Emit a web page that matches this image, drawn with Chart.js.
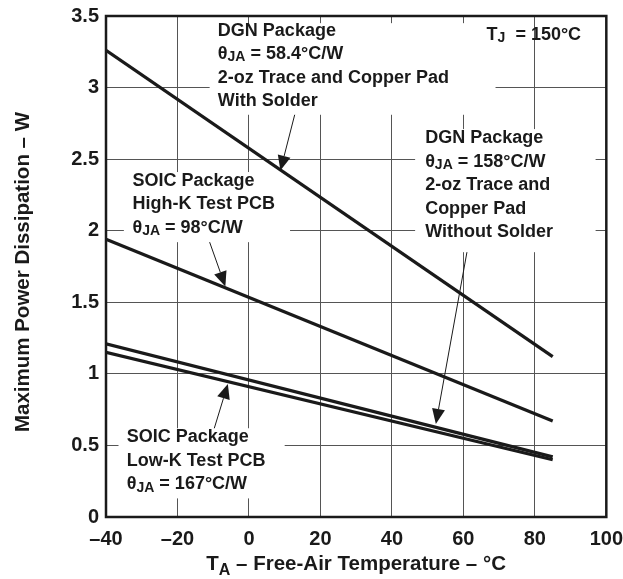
<!DOCTYPE html>
<html>
<head>
<meta charset="utf-8">
<script src="https://cdn.jsdelivr.net/npm/chart.js@4/dist/chart.umd.min.js"></script>
<style>
  html, body { margin: 0; padding: 0; background: #fff; }
  #wrap { width: 623px; height: 579px; }
</style>
</head>
<body>
<div id="wrap"><canvas id="chart" width="623" height="579"></canvas></div>
<script>
// values (T_J = 150 C)
const temps = [-40, 85];
const dgnSolder = [3.26, 1.12];
const soicHighK = [1.94, 0.67];
const dgnNoSolder = [1.21, 0.42];
const soicLowK = [1.15, 0.40];

const xTicks = [-40, -20, 0, 20, 40, 60, 80, 100];
const yTicks = [0, 0.5, 1, 1.5, 2, 2.5, 3, 3.5];

const FONT = 'Arial, "Liberation Sans", Helvetica, sans-serif';
const INK = '#1a1a1a';

const toPoints = (ys) => temps.map((t, i) => ({ x: t, y: ys[i] }));

// text blocks; each line is a list of [text, isSubscript]
// x,y in data units (top-left of the block), arrow from -> tip also in data units
const notes = [
    {
        x: -8.7, y: 3.46, box: [-11, 3.45, 69, 2.81],
        lines: [
            [['DGN Package', 0]],
            [['\u03B8', 0], ['JA', 1], [' = 58.4\u00B0C/W', 0]],
            [['2-oz Trace and Copper Pad', 0]],
            [['With Solder', 0]]
        ],
        arrow: { from: [12.8, 2.81], to: [8.8, 2.42] }
    },
    {
        x: 66.5, y: 3.43, box: null,
        lines: [[['T', 0], ['J', 1], ['  = 150\u00B0C', 0]]]
    },
    {
        x: 49.3, y: 2.71, box: [46.5, 2.71, 97, 1.85],
        lines: [
            [['DGN Package', 0]],
            [['\u03B8', 0], ['JA', 1], [' = 158\u00B0C/W', 0]],
            [['2-oz Trace and', 0]],
            [['Copper Pad', 0]],
            [['Without Solder', 0]]
        ],
        arrow: { from: [61, 1.85], to: [52.3, 0.65] }
    },
    {
        x: -32.6, y: 2.41, box: [-35, 2.41, 11.5, 1.92],
        lines: [
            [['SOIC Package', 0]],
            [['High-K Test PCB', 0]],
            [['\u03B8', 0], ['JA', 1], [' = 98\u00B0C/W', 0]]
        ],
        arrow: { from: [-11, 1.92], to: [-6.6, 1.61] }
    },
    {
        x: -34.2, y: 0.62, box: [-36.5, 0.62, 10, 0.13],
        lines: [
            [['SOIC Package', 0]],
            [['Low-K Test PCB', 0]],
            [['\u03B8', 0], ['JA', 1], [' = 167\u00B0C/W', 0]]
        ],
        arrow: { from: [-9.7, 0.62], to: [-5.9, 0.93] }
    }
];

function drawRich(ctx, parts, x, y, size) {
    let cx = x;
    parts.forEach(([txt, sub]) => {
        const fs = sub ? Math.round(size * 0.78) : size;
        ctx.font = `bold ${fs}px ${FONT}`;
        ctx.fillText(txt, cx, sub ? y + size * 0.3 : y);
        cx += ctx.measureText(txt).width;
    });
}

function drawArrow(ctx, x1, y1, x2, y2) {
    const ang = Math.atan2(y2 - y1, x2 - x1);
    const len = 15, half = 6.5;
    ctx.strokeStyle = INK;
    ctx.lineWidth = 1;
    ctx.beginPath();
    ctx.moveTo(x1, y1);
    ctx.lineTo(x2 - Math.cos(ang) * len, y2 - Math.sin(ang) * len);
    ctx.stroke();
    ctx.fillStyle = INK;
    ctx.beginPath();
    ctx.moveTo(x2, y2);
    ctx.lineTo(x2 - Math.cos(ang) * len - Math.sin(ang) * half, y2 - Math.sin(ang) * len + Math.cos(ang) * half);
    ctx.lineTo(x2 - Math.cos(ang) * len + Math.sin(ang) * half, y2 - Math.sin(ang) * len - Math.cos(ang) * half);
    ctx.closePath();
    ctx.fill();
}

// white boxes behind the labels, drawn over the grid but under the lines
const boxPlugin = {
    id: 'boxes',
    beforeDatasetsDraw(chart) {
        const { ctx, scales: { x, y } } = chart;
        ctx.save();
        ctx.fillStyle = '#fff';
        notes.forEach(n => {
            if (!n.box) return;
            const [x0, y0, x1, y1] = n.box;
            const px0 = x.getPixelForValue(x0), py0 = y.getPixelForValue(y0);
            const px1 = x.getPixelForValue(x1), py1 = y.getPixelForValue(y1);
            ctx.fillRect(px0, py0, px1 - px0, py1 - py0);
        });
        ctx.restore();
    }
};

const notePlugin = {
    id: 'notes',
    afterDraw(chart) {
        const { ctx, chartArea: a, scales: { x, y } } = chart;
        ctx.save();

        // frame
        ctx.strokeStyle = INK;
        ctx.lineWidth = 2.5;
        ctx.strokeRect(a.left, a.top, a.right - a.left, a.bottom - a.top);

        ctx.fillStyle = INK;
        ctx.textBaseline = 'top';
        ctx.textAlign = 'left';
        notes.forEach(n => {
            const px = x.getPixelForValue(n.x);
            let py = y.getPixelForValue(n.y);
            n.lines.forEach(line => {
                drawRich(ctx, line, px, py, 18);
                py += 23.5;
            });
            if (n.arrow) {
                drawArrow(ctx,
                    x.getPixelForValue(n.arrow.from[0]), y.getPixelForValue(n.arrow.from[1]),
                    x.getPixelForValue(n.arrow.to[0]), y.getPixelForValue(n.arrow.to[1]));
            }
        });

        // axis titles
        ctx.textBaseline = 'middle';
        const xt = [['T', 0], ['A', 1], [' \u2013 Free-Air Temperature \u2013 \u00B0C', 0]];
        let w = 0;
        xt.forEach(([t, s]) => {
            ctx.font = `bold ${s ? 16 : 20.5}px ${FONT}`;
            w += ctx.measureText(t).width;
        });
        const cx = (a.left + a.right) / 2;
        drawRich(ctx, xt, cx - w / 2, 564, 20.5);

        ctx.translate(23, 272);
        ctx.rotate(-Math.PI / 2);
        ctx.textAlign = 'center';
        ctx.font = `bold 20.5px ${FONT}`;
        ctx.fillText('Maximum Power Dissipation \u2013 W', 0, 0);
        ctx.restore();
    }
};

const lineSet = (label, ys) => ({
    label,
    data: toPoints(ys),
    borderColor: INK,
    borderWidth: 3.2,
    pointRadius: 0,
    fill: false,
    tension: 0
});

new Chart(document.getElementById('chart'), {
    type: 'line',
    data: {
        datasets: [
            lineSet('DGN 58.4', dgnSolder),
            lineSet('SOIC High-K', soicHighK),
            lineSet('DGN 158', dgnNoSolder),
            lineSet('SOIC Low-K', soicLowK)
        ]
    },
    options: {
        responsive: false,
        animation: false,
        layout: { padding: { left: 70, top: 16, right: 0, bottom: 0 } },
        plugins: { legend: { display: false }, tooltip: { enabled: false } },
        scales: {
            x: {
                type: 'linear',
                min: -40, max: 100,
                afterBuildTicks: (s) => { s.ticks = xTicks.map(v => ({ value: v })); },
                afterFit: (s) => { s.height = 62; },
                ticks: {
                    color: INK,
                    padding: 0,
                    font: { family: FONT, size: 20, weight: 'bold' },
                    callback: (v) => String(v).replace('-', '\u2013')
                },
                grid: { color: '#555', lineWidth: 1, drawTicks: true, tickLength: 10, tickColor: 'rgba(0,0,0,0)' },
                border: { display: false }
            },
            y: {
                min: 0, max: 3.5,
                afterBuildTicks: (s) => { s.ticks = yTicks.map(v => ({ value: v })); },
                afterFit: (s) => { s.width = 36; },
                ticks: {
                    color: INK,
                    padding: 0,
                    font: { family: FONT, size: 20, weight: 'bold' },
                    callback: (v) => String(v)
                },
                grid: { color: '#555', lineWidth: 1, drawTicks: true, tickLength: 7, tickColor: 'rgba(0,0,0,0)' },
                border: { display: false }
            }
        }
    },
    plugins: [boxPlugin, notePlugin]
});
</script>
</body>
</html>
